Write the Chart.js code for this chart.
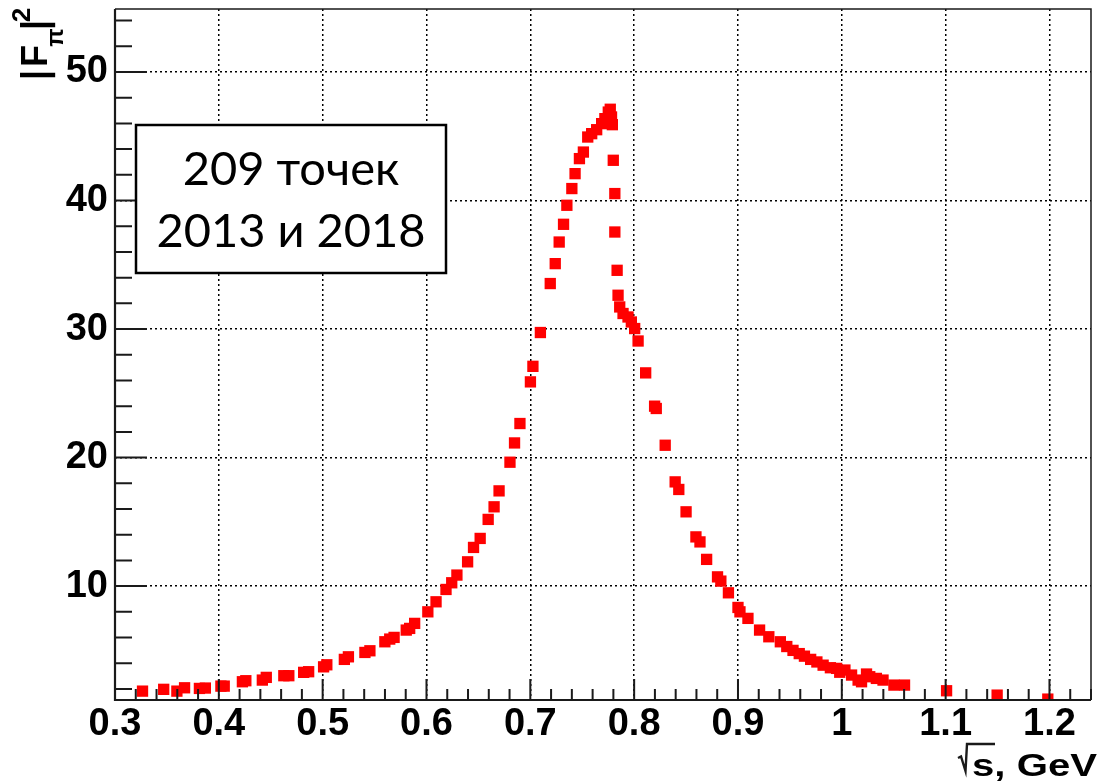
<!DOCTYPE html>
<html>
<head>
<meta charset="utf-8">
<script src="https://cdn.jsdelivr.net/npm/chart.js@4.4.1/dist/chart.umd.min.js"></script>
<style>
  html, body { margin: 0; padding: 0; background: #fff; }
  #wrap { position: relative; width: 1099px; height: 784px; }
</style>
</head>
<body>
<div id="wrap"><canvas id="ffChart" width="1099" height="784"></canvas></div>
<script>
// sqrt(s) in GeV and |F_pi|^2 for each measured point
var sqrtS = [
  0.3265, 0.3469, 0.3596, 0.3670, 0.3813, 0.3870, 0.4020, 0.4052, 0.4227, 0.4260,
  0.4419, 0.4457, 0.4626, 0.4674, 0.4817, 0.4865, 0.5009, 0.5040, 0.5209, 0.5248,
  0.5407, 0.5455, 0.5599, 0.5646, 0.5688, 0.5805, 0.5838, 0.5886, 0.6013, 0.6092,
  0.6188, 0.6243, 0.6293, 0.6396, 0.6453, 0.6517, 0.6594, 0.6651, 0.6699, 0.6804,
  0.6848, 0.6900, 0.7001, 0.7025, 0.7097, 0.7192, 0.7240, 0.7278, 0.7320, 0.7352,
  0.7400, 0.7431, 0.7473, 0.7511, 0.7553, 0.7591, 0.7639, 0.7687, 0.7718, 0.7751,
  0.7770, 0.7782, 0.7790, 0.7799, 0.7814, 0.7814, 0.7836, 0.7845, 0.7861, 0.7893,
  0.7941, 0.7973, 0.8005, 0.8038, 0.8111, 0.8197, 0.8213, 0.8299, 0.8395, 0.8430,
  0.8500, 0.8595, 0.8634, 0.8698, 0.8803, 0.8835, 0.8908, 0.9000, 0.9019, 0.9096,
  0.9208, 0.9297, 0.9408, 0.9470, 0.9530, 0.9590, 0.9640, 0.9700, 0.9760, 0.9820,
  0.9890, 0.9950, 0.9980, 1.0030, 1.0094, 1.0157, 1.0190, 1.0238, 1.0269, 1.0333,
  1.0397, 1.0502, 1.0604, 1.1009, 1.1496, 1.1984
];
var ff2 = [
  1.83, 1.97, 1.83, 2.09, 2.04, 2.07, 2.22, 2.22, 2.56, 2.64,
  2.69, 2.90, 3.03, 3.03, 3.29, 3.34, 3.72, 3.88, 4.30, 4.50,
  4.84, 4.97, 5.67, 5.88, 6.01, 6.58, 6.71, 7.10, 8.00, 8.78,
  9.74, 10.26, 10.86, 11.89, 13.01, 13.71, 15.19, 16.17, 17.41, 19.64,
  21.14, 22.65, 25.89, 27.10, 29.73, 33.54, 35.09, 36.77, 38.15, 39.63,
  40.93, 42.09, 43.26, 43.77, 44.94, 45.20, 45.51, 45.98, 46.37, 46.88,
  47.10, 46.50, 45.90, 43.13, 40.54, 37.55, 34.57, 32.63, 31.72, 31.21,
  30.94, 30.55, 30.04, 29.07, 26.59, 24.00, 23.82, 20.96, 18.11, 17.52,
  15.78, 13.83, 13.44, 12.08, 10.72, 10.39, 9.48, 8.34, 8.00, 7.49,
  6.58, 6.06, 5.67, 5.30, 5.00, 4.75, 4.55, 4.30, 4.10, 3.85,
  3.65, 3.60, 3.30, 3.47, 3.08, 2.69, 2.56, 3.16, 2.95, 2.82,
  2.69, 2.30, 2.30, 1.86, 1.52, 1.21
];

var xTicks = [0.3, 0.4, 0.5, 0.6, 0.7, 0.8, 0.9, 1.0, 1.1, 1.2];
var yTicks = [10, 20, 30, 40, 50];
var xRange = [0.3, 1.24];
var yRange = [1.14, 54.9];
var boxLines = ['209 точек', '2013 и 2018'];

var points = sqrtS.map(function (x, i) { return { x: x, y: ff2[i] }; });

var axisFont = { family: 'Liberation Sans, Arial, sans-serif', size: 38, weight: 'bold', lineHeight: 1 };

// frame, inward ticks, axis titles and the text box, ROOT style
var rootDecor = {
  id: 'rootDecor',
  afterDraw: function (chart) {
    var ctx = chart.ctx, a = chart.chartArea;
    var xs = chart.scales.x, ys = chart.scales.y;
    var v, p;
    ctx.save();

    // frame
    ctx.strokeStyle = '#1a1a1a';
    ctx.lineWidth = 1.5;
    ctx.beginPath();
    ctx.moveTo(a.left, a.top); ctx.lineTo(a.right, a.top); ctx.lineTo(a.right, a.bottom);
    ctx.stroke();
    ctx.lineWidth = 2.2;
    ctx.beginPath();
    ctx.moveTo(a.left, a.top); ctx.lineTo(a.left, a.bottom); ctx.lineTo(a.right, a.bottom);
    ctx.stroke();

    // x ticks: major every 0.1, minor every 0.02
    ctx.lineWidth = 2;
    ctx.beginPath();
    for (var i = 15; i <= 62; i++) {
      v = i * 0.02;
      if (v < xRange[0] - 1e-9 || v > xRange[1]) continue;
      p = xs.getPixelForValue(v);
      var len = (i % 5 === 0) ? 21 : 11;
      ctx.moveTo(p, a.bottom); ctx.lineTo(p, a.bottom - len);
    }
    // y ticks: major every 10, minor every 2
    for (var j = 1; j <= 27; j++) {
      v = j * 2;
      if (v < yRange[0] || v > yRange[1]) continue;
      p = ys.getPixelForValue(v);
      var ylen = (j % 5 === 0) ? 32 : 17;
      ctx.moveTo(a.left, p); ctx.lineTo(a.left + ylen, p);
    }
    ctx.stroke();

    // y title |F_pi|^2, rotated, aligned to the top end
    ctx.fillStyle = '#000';
    ctx.textAlign = 'center';
    ctx.textBaseline = 'alphabetic';
    ctx.save();
    ctx.translate(47, 0);
    ctx.rotate(-Math.PI / 2);
    ctx.font = 'bold 36px Liberation Sans';
    ctx.fillText('|', -75, 0);
    ctx.fillText('F', -56, 0);
    ctx.fillText('|', -25, 0);
    ctx.font = 'bold 24px Liberation Sans';
    ctx.fillText('π', -37.5, 16);
    ctx.font = 'bold 26px Liberation Sans';
    ctx.fillText('2', -15, -17);
    ctx.restore();

    // x title: radical sign, then "s, GeV"
    ctx.lineWidth = 2.4;
    ctx.beginPath();
    ctx.moveTo(958, 758); ctx.lineTo(961, 756.5); ctx.lineTo(965.5, 771);
    ctx.lineTo(967, 744); ctx.lineTo(995, 744);
    ctx.stroke();
    ctx.font = 'bold 31px Liberation Sans';
    ctx.textAlign = 'left';
    var title = 's, GeV';
    var tw = ctx.measureText(title).width;
    ctx.save();
    ctx.translate(972, 776);
    ctx.scale(125 / tw, 1);
    ctx.fillText(title, 0, 0);
    ctx.restore();

    // label box
    var bx = 136, by = 125, bw = 310, bh = 148;
    ctx.fillStyle = '#fff';
    ctx.fillRect(bx, by, bw, bh);
    ctx.strokeStyle = '#000';
    ctx.lineWidth = 2.5;
    ctx.strokeRect(bx, by, bw, bh);
    ctx.fillStyle = '#000';
    ctx.textAlign = 'center';
    ctx.textBaseline = 'middle';
    ctx.font = '47px Lato';
    ctx.fillText(boxLines[0], bx + bw / 2, 170);
    ctx.fillText(boxLines[1], bx + bw / 2, 232);

    ctx.restore();
  }
};

new Chart(document.getElementById('ffChart'), {
  type: 'scatter',
  data: {
    datasets: [{
      data: points,
      pointStyle: 'rect',
      pointRadius: 8,
      pointHoverRadius: 8,
      backgroundColor: '#ff0000',
      borderColor: '#ff0000',
      borderWidth: 0,
      clip: 0
    }]
  },
  options: {
    responsive: false,
    animation: false,
    devicePixelRatio: 1,
    layout: { padding: { top: 9, right: 1, left: 0, bottom: 0 } },
    plugins: { legend: { display: false }, tooltip: { enabled: false } },
    scales: {
      x: {
        type: 'linear',
        min: xRange[0],
        max: xRange[1],
        afterBuildTicks: function (s) { s.ticks = xTicks.map(function (v) { return { value: v }; }); },
        afterFit: function (s) { s.height = 84; s.paddingLeft = 0; s.paddingRight = 0; },
        grid: { color: '#000', lineWidth: 1.5, drawTicks: false },
        border: { display: false, dash: [2, 3] },
        ticks: {
          color: '#000',
          font: axisFont,
          padding: 6,
          maxRotation: 0,
          autoSkip: false,
          callback: function (v) { return String(Math.round(v * 10) / 10); }
        }
      },
      y: {
        type: 'linear',
        min: yRange[0],
        max: yRange[1],
        afterBuildTicks: function (s) { s.ticks = yTicks.map(function (v) { return { value: v }; }); },
        afterFit: function (s) { s.width = 115; s.paddingTop = 0; s.paddingBottom = 0; },
        grid: { color: '#000', lineWidth: 1.5, drawTicks: false },
        border: { display: false, dash: [2, 3] },
        ticks: {
          color: '#000',
          font: axisFont,
          padding: 7,
          autoSkip: false,
          callback: function (v) { return String(v); }
        }
      }
    }
  },
  plugins: [rootDecor]
});
</script>
</body>
</html>
